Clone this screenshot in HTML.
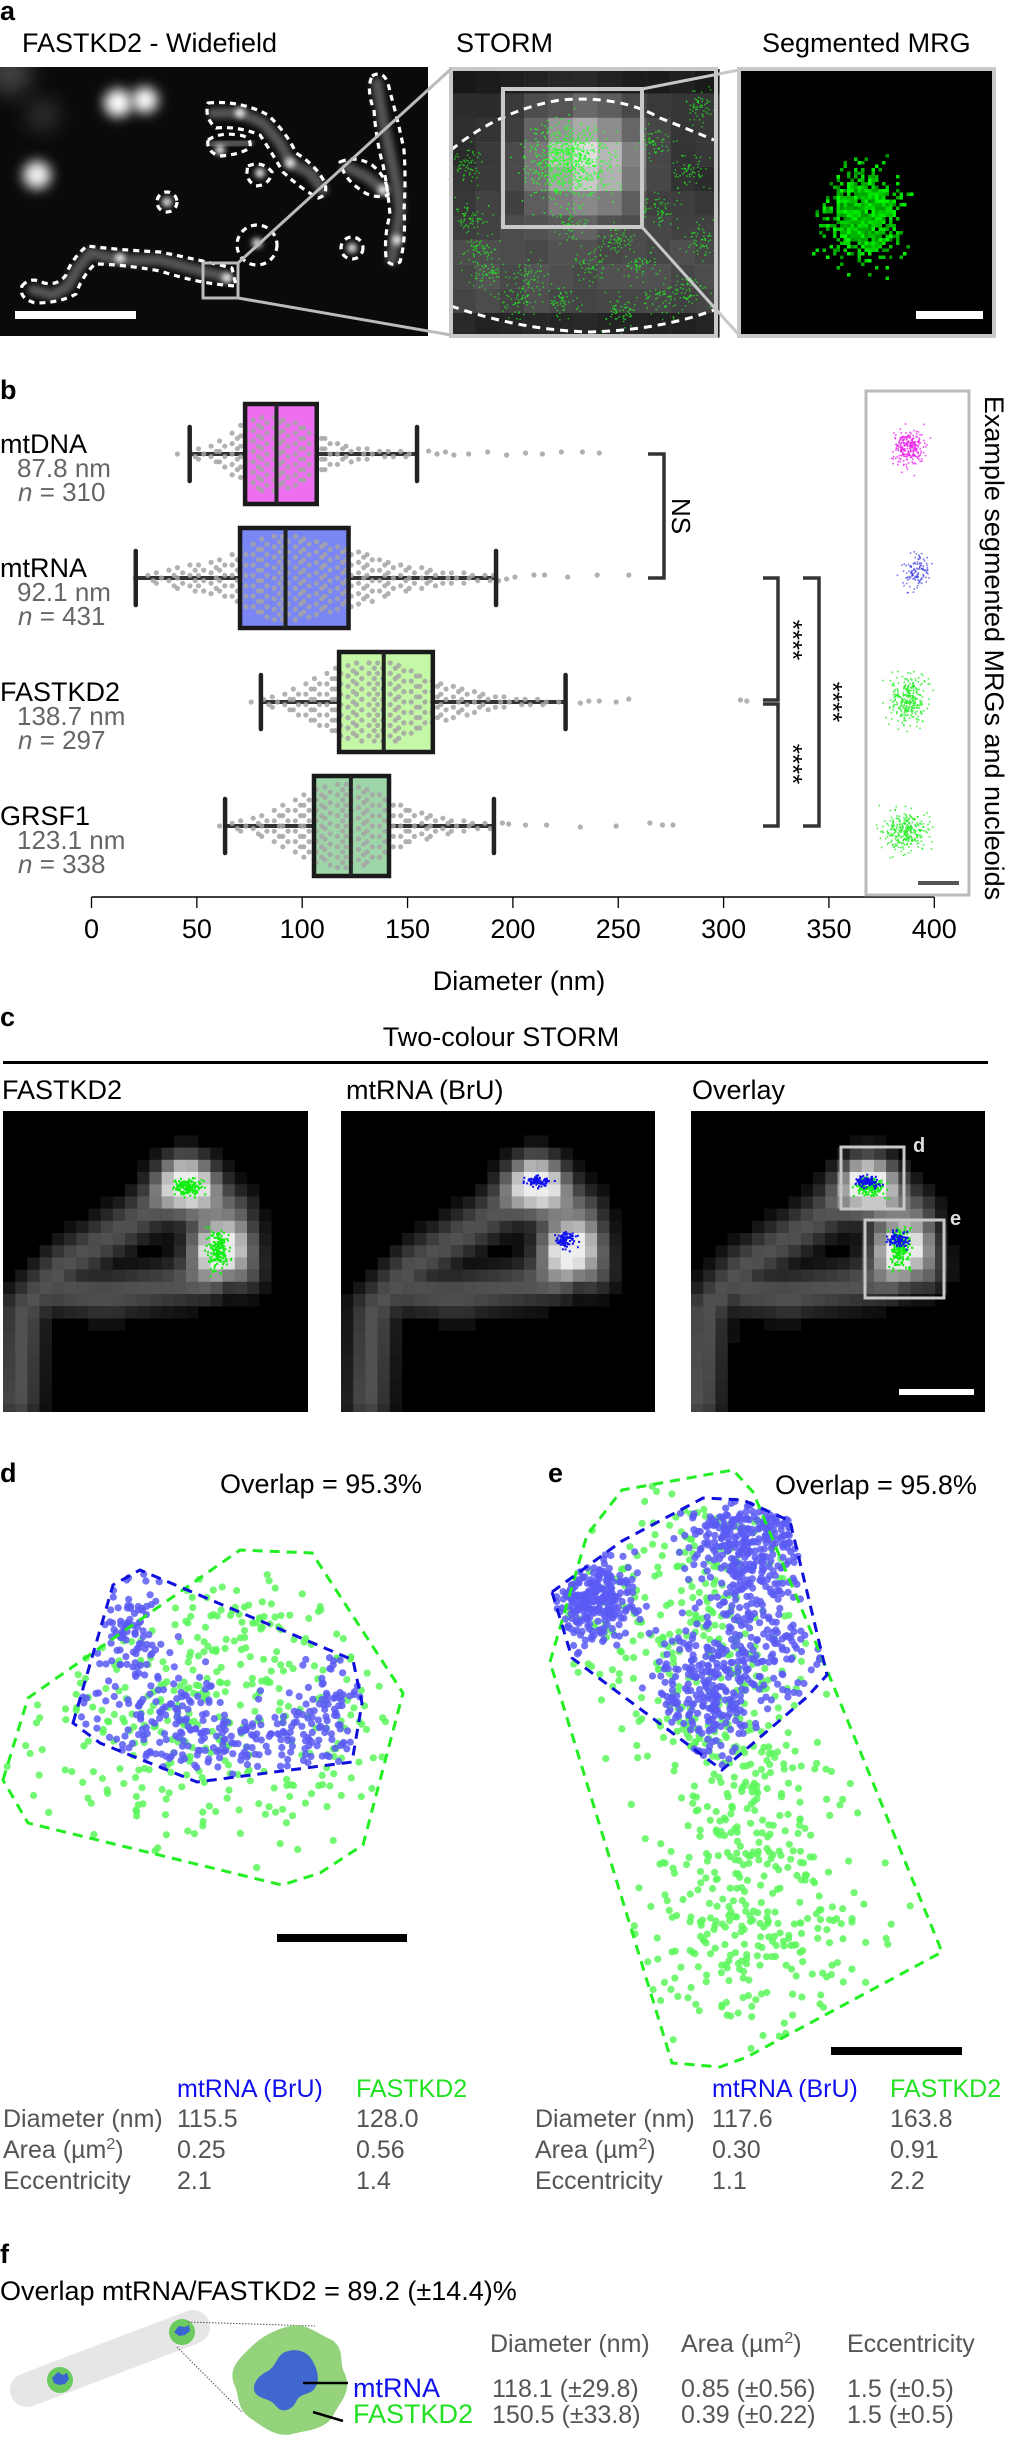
<!DOCTYPE html>
<html><head><meta charset="utf-8"><title>MRG figure</title>
<style>
html,body{margin:0;padding:0;background:#fff;}
svg{display:block;}
text{font-family:"Liberation Sans",Arial,sans-serif;}
.lbl{font-weight:bold;font-size:27px;}
.t{font-size:27px;fill:#000;}
.g{font-size:26px;fill:#666;}
.tb{font-size:25px;fill:#555;}
</style></head>
<body>
<svg id="fig" xmlns="http://www.w3.org/2000/svg" width="1010" height="2438" viewBox="0 0 1010 2438">
<defs>
<filter id="b6" x="-50%" y="-50%" width="200%" height="200%"><feGaussianBlur stdDeviation="6"/></filter>
<filter id="b3" x="-50%" y="-50%" width="200%" height="200%"><feGaussianBlur stdDeviation="3"/></filter>
<filter id="b10" x="-50%" y="-50%" width="200%" height="200%"><feGaussianBlur stdDeviation="10"/></filter>
<clipPath id="clipA"><rect x="0" y="67" width="428" height="269"/></clipPath>
</defs>

<g>
<text class="lbl" x="0" y="20">a</text>
<text class="t" x="22" y="52">FASTKD2 - Widefield</text>
<text class="t" x="456" y="52">STORM</text>
<text class="t" x="762" y="52">Segmented MRG</text>
<g id="wide" clip-path="url(#clipA)">
<rect x="0" y="67" width="428" height="269" fill="#0a0a0a"/>
</g>
<g id="storm"></g>
<g id="seg"></g>
</g>

<g id="panelB">
<text class="lbl" x="0" y="399">b</text>
</g>

<g id="panelC">
<text class="lbl" x="0" y="1026">c</text>
<text class="t" x="501" y="1046" text-anchor="middle">Two-colour STORM</text>
<rect x="3" y="1061" width="985" height="3" fill="#000"/>
<text class="t" x="2" y="1099">FASTKD2</text>
<text class="t" x="346" y="1099">mtRNA (BrU)</text>
<text class="t" x="692" y="1099">Overlay</text>
</g>

<g id="panelD">
<text class="lbl" x="0" y="1482">d</text>
<text class="t" x="220" y="1493">Overlap = 95.3%</text>
</g>
<g id="panelE">
<text class="lbl" x="548" y="1482">e</text>
<text class="t" x="775" y="1494">Overlap = 95.8%</text>
</g>

<g>
<text class="tb" x="177" y="2097" style="fill:#1010ee">mtRNA (BrU)</text>
<text class="tb" x="356" y="2097" style="fill:#22e022">FASTKD2</text>
<text class="tb" x="3" y="2127">Diameter (nm)</text><text class="tb" x="177" y="2127">115.5</text><text class="tb" x="356" y="2127">128.0</text>
<text class="tb" x="3" y="2158">Area (µm<tspan dy="-9" font-size="16">2</tspan><tspan dy="9">)</tspan></text><text class="tb" x="177" y="2158">0.25</text><text class="tb" x="356" y="2158">0.56</text>
<text class="tb" x="3" y="2189">Eccentricity</text><text class="tb" x="177" y="2189">2.1</text><text class="tb" x="356" y="2189">1.4</text>
</g>
<g>
<text class="tb" x="712" y="2097" style="fill:#1010ee">mtRNA (BrU)</text>
<text class="tb" x="890" y="2097" style="fill:#22e022">FASTKD2</text>
<text class="tb" x="535" y="2127">Diameter (nm)</text><text class="tb" x="712" y="2127">117.6</text><text class="tb" x="890" y="2127">163.8</text>
<text class="tb" x="535" y="2158">Area (µm<tspan dy="-9" font-size="16">2</tspan><tspan dy="9">)</tspan></text><text class="tb" x="712" y="2158">0.30</text><text class="tb" x="890" y="2158">0.91</text>
<text class="tb" x="535" y="2189">Eccentricity</text><text class="tb" x="712" y="2189">1.1</text><text class="tb" x="890" y="2189">2.2</text>
</g>

<g>
<text class="lbl" x="0" y="2263">f</text>
<text class="t" x="0" y="2300">Overlap mtRNA/FASTKD2 = 89.2 (±14.4)%</text>
<g>
<line x1="27" y1="2390" x2="193" y2="2327" stroke="#e6e6e6" stroke-width="34" stroke-linecap="round"/>
<circle cx="60" cy="2380" r="13" fill="#6ccb5f"/><path d="M52 2378 l6 -6 l5 3 l4 -2 l2 6 l-4 5 l-6 1 l-5 -2z" fill="#3a64d0"/>
<circle cx="182" cy="2332" r="13" fill="#6ccb5f"/><path d="M174 2332 l5 -6 l6 1 l4 -2 l1 6 l-5 4 l-6 1z" fill="#3a64d0"/>
<line x1="188" y1="2322" x2="315" y2="2326" stroke="#555" stroke-width="1" stroke-dasharray="1.5 1.5"/>
<line x1="177" y1="2347" x2="242" y2="2412" stroke="#555" stroke-width="1" stroke-dasharray="1.5 1.5"/>
<path d="M290 2326 C305 2322 318 2334 332 2340 C346 2350 338 2362 345 2374 C352 2392 340 2402 334 2414 C326 2430 308 2430 292 2434 C276 2438 262 2426 250 2418 C236 2408 240 2396 234 2384 C228 2368 240 2358 250 2348 C262 2336 274 2330 290 2326Z" fill="#94d27c"/>
<path d="M285 2352 C295 2348 306 2350 312 2360 C318 2370 320 2380 315 2388 C310 2396 300 2392 296 2402 C292 2410 282 2414 276 2406 C270 2398 262 2400 256 2394 C250 2386 258 2376 266 2372 C276 2368 276 2356 285 2352Z" fill="#3f67cf"/>
<line x1="303" y1="2383" x2="348" y2="2383" stroke="#000" stroke-width="2.5"/>
<line x1="313" y1="2412" x2="343" y2="2421" stroke="#000" stroke-width="2.5"/>
</g>
<text class="t" x="353" y="2397" style="fill:#1010ee">mtRNA</text>
<text class="t" x="353" y="2423" style="fill:#22e022">FASTKD2</text>
<g>
<text class="tb" x="490" y="2352">Diameter (nm)</text>
<text class="tb" x="681" y="2352">Area (µm<tspan dy="-9" font-size="16">2</tspan><tspan dy="9">)</tspan></text>
<text class="tb" x="847" y="2352">Eccentricity</text>
<text class="tb" x="492" y="2397">118.1 (±29.8)</text><text class="tb" x="681" y="2397">0.85 (±0.56)</text><text class="tb" x="847" y="2397">1.5 (±0.5)</text>
<text class="tb" x="492" y="2423">150.5 (±33.8)</text><text class="tb" x="681" y="2423">0.39 (±0.22)</text><text class="tb" x="847" y="2423">1.5 (±0.5)</text>
</g>
</g>
</svg>

<script>
// ---------- Panel b data ----------
const categories = ["mtDNA", "mtRNA", "FASTKD2", "GRSF1"];
const medianLabels = ["87.8 nm", "92.1 nm", "138.7 nm", "123.1 nm"];
const nLabels = ["310", "431", "297", "338"];
const whiskerLow = [46.6, 21, 80.4, 63.4];
const q1Values = [72.9, 70.5, 117.5, 105.6];
const medianValues = [87.8, 92.1, 138.7, 123.1];
const q3Values = [106.9, 122, 162, 141.2];
const whiskerHigh = [154.5, 192, 225, 191];
const outliersMtDNA = [160,164,168,172,179,188,197,206,214,223,233,241];
const outliersMtRNA = [197,201,210,215,226,240,255];
const outliersFASTKD2 = [232,236,241,249,255,308,311];
const outliersGRSF1 = [195,198,206,216,232,249,265,271,276];
const binStart = [40, 20, 75, 60];
const swarmMtDNA = [1,2,3,4,6,9,12,14,15,15,14,13,11,9,7,5,4,3,3,2,2,2,1];
const swarmMtRNA = [1,2,3,4,5,6,6,7,8,10,12,14,16,17,17,17,16,15,14,13,12,11,10,8,7,6,5,5,4,3,3,3,2,2,2];
const swarmFASTKD2 = [1,2,3,4,6,8,10,12,14,15,16,16,16,16,15,13,11,9,8,7,6,5,4,3,3,2,2,2,1,1];
const swarmGRSF1 = [1,2,3,4,5,7,9,11,13,15,16,17,17,16,15,13,11,9,7,6,5,4,3,3,2,2];
const xTicks = [0,50,100,150,200,250,300,350,400];
const boxColors = ["#ee6ef0", "#7a86f4", "#c4f7a6", "#9fd6a9"];

const NS = "http://www.w3.org/2000/svg";
function mk(tag, attrs, parent) {
  const e = document.createElementNS(NS, tag);
  for (const k in attrs) e.setAttribute(k, attrs[k]);
  if (parent) parent.appendChild(e);
  return e;
}
const xScale = v => 91.5 + 2.107 * v;
const rowY = i => 454 + i * 124;

const pb = document.getElementById("panelB");
const outliers = [outliersMtDNA, outliersMtRNA, outliersFASTKD2, outliersGRSF1];
const swarms = [swarmMtDNA, swarmMtRNA, swarmFASTKD2, swarmGRSF1];

categories.forEach((c, i) => {
  const cy = rowY(i);
  const g = mk("g", {}, pb);
  
  
  const t1 = mk("text", {x: 0, y: cy - 1, class: "t"}, g); t1.textContent = c;
  
  
  const t2 = mk("text", {x: 17, y: cy + 23, class: "g"}, g); t2.textContent = medianLabels[i];
  
  
  const t3 = mk("text", {x: 18, y: cy + 47, class: "g"}, g);
  t3.innerHTML = '<tspan font-style="italic">n</tspan> = ' + nLabels[i];
  
  
  mk("line", {x1: xScale(whiskerLow[i]), x2: xScale(whiskerHigh[i]), y1: cy, y2: cy, stroke: "#333", "stroke-width": 4}, g);
  mk("rect", {x: xScale(q1Values[i]), y: cy - 50, width: xScale(q3Values[i]) - xScale(q1Values[i]), height: 100, fill: boxColors[i]}, g);
  const sw = swarms[i];
  sw.forEach((cnt, b) => {
    const v = binStart[i] + b * 5 + 2.5;
    for (let k = 0; k < cnt; k++) {
      const off = (k - (cnt - 1) / 2) * 5.2;
      const jit = (k % 2 ? 2.6 : -2.6) + ((b % 2) ? 1 : -1);
      const d = mk("circle", {cx: xScale(v) + jit, cy: cy + off, r: 2.6, fill: "#a5a5a5", "fill-opacity": 0.85}, g);
      
      
    }
  });
  outliers[i].forEach(v => {
    const d = mk("circle", {cx: xScale(v), cy: cy - 1 + ((v * 7) % 5 - 2), r: 2.6, fill: "#b0b0b0"}, g);
    
    
  });
  const bx = mk("rect", {x: xScale(q1Values[i]), y: cy - 50, width: xScale(q3Values[i]) - xScale(q1Values[i]), height: 100, fill: "none", stroke: "#1a1a1a", "stroke-width": 4.5}, g);
  
  
  const md = mk("line", {x1: xScale(medianValues[i]), x2: xScale(medianValues[i]), y1: cy - 50, y2: cy + 50, stroke: "#222", "stroke-width": 4}, g);
  
  
  [whiskerLow[i], whiskerHigh[i]].forEach(v => {
    const cap = mk("line", {x1: xScale(v), x2: xScale(v), y1: cy - 27, y2: cy + 27, stroke: "#222", "stroke-width": 4.5, "stroke-linecap": "round"}, g);
    
    
  });
});

const ax = mk("g", {}, pb);


mk("line", {x1: xScale(0), x2: xScale(400), y1: 897, y2: 897, stroke: "#000", "stroke-width": 1.5}, ax);
xTicks.forEach(v => {
  mk("line", {x1: xScale(v), x2: xScale(v), y1: 897, y2: 908, stroke: "#000", "stroke-width": 1.3}, ax);
  const t = mk("text", {x: xScale(v), y: 938, class: "t", "text-anchor": "middle"}, ax);
  t.textContent = v;
  
  
});
const xt = mk("text", {x: 519, y: 990, class: "t", "text-anchor": "middle"}, ax);
xt.textContent = "Diameter (nm)";



function bracket(x0, x1, y0, y1, name) {
  const p = mk("path", {d: `M${x0} ${y0} H${x1} V${y1} H${x0}`, fill: "none", stroke: "#333", "stroke-width": 3.5}, pb);
  
  
}
bracket(648, 664, rowY(0), rowY(1), 'bracket-ns');
bracket(763, 778, rowY(1), rowY(2) - 2, 'bracket-mtrna-fastkd2');
bracket(763, 778, rowY(2) + 2, rowY(3), 'bracket-fastkd2-grsf1');
bracket(803, 819, rowY(1), rowY(3), 'bracket-mtrna-grsf1');
function rotText(x, y, s, name, size) {
  const t = mk("text", {x: x, y: y, "text-anchor": "middle", transform: `rotate(90 ${x} ${y})`, "font-size": size || 26}, pb);
  t.textContent = s;
  
  
}
rotText(672, 516, "NS", 'ns-label');
rotText(784, 640, "****", 'sig-stars-1');
rotText(784, 764, "****", 'sig-stars-2');
rotText(824, 702, "****", 'sig-stars-3');
rotText(985, 648, "Example segmented MRGs and nucleoids", 'example-title', 27);

const ex = mk("g", {}, pb);


mk("rect", {x: 866, y: 391, width: 103, height: 504, fill: "#fff", stroke: "#bbb", "stroke-width": 3}, ex);

let seed = 12345;
function rnd() { seed = (seed * 1664525 + 1013904223) % 4294967296; return seed / 4294967296; }
function gauss() { return (rnd() + rnd() + rnd() + rnd() - 2) / 0.58; }
function cloud(parent, cx, cy, sx, sy, n, col, r, op) {
  for (let k = 0; k < n; k++) {
    mk("rect", {x: (cx + gauss() * sx).toFixed(1), y: (cy + gauss() * sy).toFixed(1), width: r, height: r, fill: col, "fill-opacity": op || 1}, parent);
  }
}
cloud(ex, 908, 447, 8, 9, 260, "#ee22ee", 1.6, 0.8);
cloud(ex, 915, 573, 7, 9, 120, "#2222dd", 1.6, 0.6);
cloud(ex, 908, 698, 10, 12, 300, "#22ee22", 1.6, 0.8);
cloud(ex, 905, 831, 11, 9, 300, "#22ee22", 1.6, 0.8);
mk("rect", {x: 918, y: 881, width: 41, height: 4, fill: "#555"}, ex);

// ---------- Panel a ----------
const wide = document.getElementById("wide");
function blob(parent, x, y, r, col, op, filt) { mk("circle", {cx: x, cy: y, r: r, fill: col, "fill-opacity": op, filter: filt || "url(#b6)"}, parent); }
blob(wide, 10, 73, 22, "#666", 0.6, "url(#b10)");
blob(wide, 43, 115, 16, "#555", 0.5, "url(#b10)");
blob(wide, 37, 175, 14, "#fff", 0.95);
blob(wide, 118, 103, 14, "#fff", 1);
blob(wide, 145, 100, 13, "#fff", 1);
const mitoPaths = [
  "M33 290 L53 295 L67 287 L77 270 L90 253 L120 260 L160 260 L197 270 L227 277",
  "M213 113 L240 113 L263 123 L280 143 L290 163 L310 173 L323 190",
  "M213 145 L233 143 L248 142",
  "M377 83 L383 120 L390 153 L397 187 L400 210 L395 240 L392 260",
  "M347 167 L367 177 L383 190"
];
mitoPaths.forEach(d => mk("path", {d: d, fill: "none", stroke: "#555", "stroke-width": 11, "stroke-linecap": "round", "stroke-linejoin": "round", filter: "url(#b3)"}, wide));
[[120,258],[227,278],[240,113],[290,163],[383,190],[397,240],[167,202],[352,248],[257,243],[260,173],[220,150]].forEach(p => blob(wide, p[0], p[1], 5, "#fff", 0.9, "url(#b3)"));
const outlineStyle = {fill: "none", stroke: "#fff", "stroke-width": 3.2, "stroke-dasharray": "6 5", "stroke-linejoin": "round"};
function outline(d) { mk("path", Object.assign({d: d}, outlineStyle), wide); }
outline("M22 286 Q30 276 44 283 Q58 286 66 275 Q72 258 87 246 Q120 250 160 252 Q200 260 232 268 L236 286 Q200 284 160 271 Q120 264 95 264 Q82 276 76 294 Q60 303 35 303 Q18 298 22 286Z");
outline("M208 103 Q240 100 268 115 Q287 133 296 153 Q316 165 325 183 Q328 196 318 198 Q300 188 283 172 Q272 153 260 135 Q238 126 216 128 Q204 118 208 103Z");
outline("M208 140 Q220 132 238 135 Q252 136 250 148 Q238 155 220 156 Q206 152 208 140Z");
outline("M372 76 Q386 68 390 92 Q398 120 404 150 Q406 180 404 210 Q406 240 400 262 Q390 268 386 258 Q384 235 390 215 Q388 190 383 165 Q376 140 374 110 Q366 90 372 76Z");
outline("M340 162 Q356 155 372 165 Q388 178 388 195 Q372 200 358 188 Q344 178 340 162Z");
outline("M248 166 Q262 160 272 172 Q270 185 256 186 Q244 180 248 166Z");
mk("circle", Object.assign({cx: 167, cy: 202, r: 10}, outlineStyle), wide);
mk("circle", Object.assign({cx: 352, cy: 248, r: 11}, outlineStyle), wide);
mk("circle", Object.assign({cx: 257, cy: 245, r: 20}, outlineStyle), wide);
mk("rect", {x: 203, y: 263, width: 35, height: 35, fill: "none", stroke: "#bbb", "stroke-width": 3}, wide);
mk("rect", {x: 15, y: 311, width: 121, height: 8, fill: "#fff"}, wide);
const svg = document.getElementById("fig");
mk("line", {x1: 238, y1: 263, x2: 451, y2: 69, stroke: "#bbb", "stroke-width": 3}, svg);
mk("line", {x1: 238, y1: 298, x2: 451, y2: 335, stroke: "#bbb", "stroke-width": 3}, svg);

const st = document.getElementById("storm");
for (let gx = 0; gx < 11; gx++) for (let gy = 0; gy < 11; gy++) {
  const x = 451 + gx * 24.4, y = 69 + gy * 24.4;
  const dx = (x + 12 - 585) / 55, dy = (y + 12 - 160) / 50;
  let v = 40 + 170 * Math.exp(-(dx * dx + dy * dy)) + 30 * Math.exp(-Math.pow((y - 260) / 60, 2)) + rnd() * 15;
  if (gy === 0 || gy === 10) v *= 0.6;
  v = Math.min(235, Math.round(v));
  mk("rect", {x: x, y: y, width: 24.6, height: 24.6, fill: `rgb(${v},${v},${v})`}, st);
}
cloud(st, 570, 160, 20, 18, 700, "#22ff22", 1.5, 0.9);
[[465,163],[470,215],[480,250],[488,275],[570,225],[590,265],[615,240],[640,265],[660,210],[690,170],[700,240],[520,300],[560,300],[620,310],[660,300],[530,275],[690,290],[655,140],[700,105]].forEach(p => cloud(st, p[0], p[1], 9, 8, 60, "#22ee22", 1.4, 0.8));
mk("path", {d: "M451 150 Q500 110 560 100 Q620 95 660 118 Q690 130 714 140", fill: "none", stroke: "#fff", "stroke-width": 3, "stroke-dasharray": "8 6"}, st);
mk("path", {d: "M451 306 Q520 330 590 332 Q660 330 714 310", fill: "none", stroke: "#fff", "stroke-width": 3, "stroke-dasharray": "8 6"}, st);
mk("rect", {x: 503, y: 89, width: 139, height: 138, fill: "none", stroke: "#c8c8c8", "stroke-width": 4}, st);
mk("rect", {x: 451, y: 69, width: 265, height: 267, fill: "none", stroke: "#c8c8c8", "stroke-width": 4}, st);
mk("line", {x1: 642, y1: 89, x2: 739, y2: 70, stroke: "#c8c8c8", "stroke-width": 3}, svg);
mk("line", {x1: 642, y1: 227, x2: 739, y2: 335, stroke: "#c8c8c8", "stroke-width": 3}, svg);

const sg = document.getElementById("seg");
mk("rect", {x: 739, y: 69, width: 255, height: 267, fill: "#000", stroke: "#c8c8c8", "stroke-width": 4}, sg);
for (let k = 0; k < 900; k++) {
  const px = Math.round((860 + gauss() * 17) / 3.5) * 3.5, py = Math.round((215 + gauss() * 21) / 3.5) * 3.5;
  const gv = 140 + Math.round(rnd() * 115);
  mk("rect", {x: px, y: py, width: 3.5, height: 3.5, fill: `rgb(0,${gv},0)`}, sg);
}
mk("rect", {x: 916, y: 311, width: 67, height: 8, fill: "#fff"}, sg);

// ---------- Panel c ----------
const pc = document.getElementById("panelC");
const brightSpots = [[184,74,0.9],[214,137,0.95]];
const bodySegs = [[15,290,20,200],[20,200,60,155],[60,155,130,110],[130,110,178,70],[95,185,200,170],[200,170,235,140],[60,180,110,185],[178,70,230,100],[230,100,240,160]];
function segDist(px, py, s) {
  const [x1, y1, x2, y2] = s; const dx = x2 - x1, dy = y2 - y1;
  let t = ((px - x1) * dx + (py - y1) * dy) / (dx * dx + dy * dy); t = Math.max(0, Math.min(1, t));
  const ex = x1 + t * dx - px, ey = y1 + t * dy - py; return Math.sqrt(ex * ex + ey * ey);
}
function intensity(px, py) {
  let v = 0;
  bodySegs.forEach(s => { const d = segDist(px, py, s); v = Math.max(v, 0.32 * Math.exp(-d * d / 500)); });
  brightSpots.forEach(b => { const d2 = (px - b[0]) ** 2 + (py - b[1]) ** 2; v += b[2] * Math.exp(-d2 / 700); });
  return Math.min(0.93, v);
}
const imgs = [[3, 305, "fastkd2-image"], [341, 314, "mtrna-image"], [691, 294, "overlay-image"]];
imgs.forEach((im, idx) => {
  const g = mk("g", {}, pc);
  
  
  const x0 = im[0], w = im[1], y0 = 1111, h = 301;
  mk("rect", {x: x0, y: y0, width: w, height: h, fill: "#000"}, g);
  const shift = idx === 1 ? 12 : (idx === 2 ? -6 : 0);
  for (let gx = 0; gx * 12.2 < w; gx++) for (let gy = 0; gy * 12.2 < h; gy++) {
    const v = intensity(gx * 12.2 + 6 - shift, gy * 12.2 + 6);
    if (v < 0.05) continue;
    const c = Math.round(v * 255);
    mk("rect", {x: x0 + gx * 12.2, y: y0 + gy * 12.2, width: Math.min(12.4, w - gx * 12.2), height: Math.min(12.4, h - gy * 12.2), fill: `rgb(${c},${c},${c})`}, g);
  }
  const sx = x0 + shift;
  if (idx === 0 || idx === 2) {
    cloud(g, sx + 184, y0 + 75, 7, 4, 160, "#11ee11", 2);
    cloud(g, sx + 214, y0 + 138, 5, 10, 180, "#11ee11", 2);
  }
  if (idx === 1 || idx === 2) {
    cloud(g, sx + 184 - (idx === 1 ? 0 : 3), y0 + 70, 6, 2.5, 90, "#1111ee", 2);
    cloud(g, sx + 212, y0 + 128, 5, 4, 90, "#1111ee", 2);
  }
});
mk("rect", {x: 841, y: 1147, width: 63, height: 62, fill: "none", stroke: "#c8c8c8", "stroke-width": 3}, pc);
mk("rect", {x: 865, y: 1220, width: 79, height: 78, fill: "none", stroke: "#c8c8c8", "stroke-width": 3}, pc);
const dl = mk("text", {x: 913, y: 1152, "font-size": 20, "font-weight": "bold", fill: "#ddd"}, pc); dl.textContent = "d";
const el = mk("text", {x: 950, y: 1225, "font-size": 20, "font-weight": "bold", fill: "#ddd"}, pc); el.textContent = "e";
mk("rect", {x: 899, y: 1389, width: 75, height: 6, fill: "#fff"}, pc);

// ---------- Panels d & e ----------
function inPoly(x, y, poly) {
  let c = false;
  for (let i = 0, j = poly.length - 1; i < poly.length; j = i++) {
    const [xi, yi] = poly[i], [xj, yj] = poly[j];
    if (((yi > y) !== (yj > y)) && (x < (xj - xi) * (y - yi) / (yj - yi) + xi)) c = !c;
  }
  return c;
}
function scatter(parent, poly, clusters, col, name) {
  const g = mk("g", {}, parent);
  
  
  clusters.forEach(([cx, cy, sx, sy, n]) => {
    let k = 0, guard = 0;
    while (k < n && guard < n * 20) {
      guard++;
      const x = cx + gauss() * sx, y = cy + gauss() * sy;
      if (!inPoly(x, y, poly)) continue;
      mk("circle", {cx: x.toFixed(1), cy: y.toFixed(1), r: 3.6, fill: col, "fill-opacity": 0.85}, g);
      k++;
    }
  });
}
function hull(parent, poly, col, name) {
  const p = mk("polygon", {points: poly.map(p => p.join(",")).join(" "), fill: "none", stroke: col, "stroke-width": 3, "stroke-dasharray": "10 7"}, parent);
  
  
}
const greenD = [[3,1780],[28,1698],[240,1550],[312,1553],[403,1693],[363,1845],[320,1873],[282,1885],[28,1823]];
const blueD = [[73,1723],[113,1585],[140,1570],[353,1660],[362,1703],[352,1762],[197,1782],[100,1743]];
const pdG = document.getElementById("panelD");
scatter(pdG, greenD, [[200,1720,110,70,330],[260,1620,50,30,40]], "#5cf75c", "fastkd2-points-d");
scatter(pdG, blueD, [[128,1620,18,30,90],[230,1735,75,18,200],[330,1700,15,25,50],[150,1700,40,25,60]], "#5a5af5", "mtrna-points-d");
hull(pdG, greenD, "#22ee22", "fastkd2-hull-d");
hull(pdG, blueD, "#1010dd", "mtrna-hull-d");
mk("rect", {x: 277, y: 1934, width: 130, height: 8, fill: "#000"}, pdG);

const greenE = [[550,1662],[587,1535],[622,1490],[733,1470],[753,1492],[827,1670],[942,1952],[747,2057],[720,2067],[672,2063]];
const blueE = [[552,1592],[622,1541],[703,1498],[743,1500],[790,1521],[827,1675],[807,1697],[722,1770],[572,1658]];
const peG = document.getElementById("panelE");
scatter(peG, greenE, [[700,1600,60,60,200],[745,1830,45,90,320],[760,1950,70,50,120],[660,1700,50,50,60]], "#5cf75c", "fastkd2-points-e");
scatter(peG, blueE, [[592,1598,22,22,260],[750,1545,30,30,300],[710,1690,25,35,260],[770,1640,25,30,120]], "#5a5af5", "mtrna-points-e");
hull(peG, greenE, "#22ee22", "fastkd2-hull-e");
hull(peG, blueE, "#1010dd", "mtrna-hull-e");
mk("rect", {x: 831, y: 2047, width: 131, height: 8, fill: "#000"}, peG);
</script>
</body></html>
